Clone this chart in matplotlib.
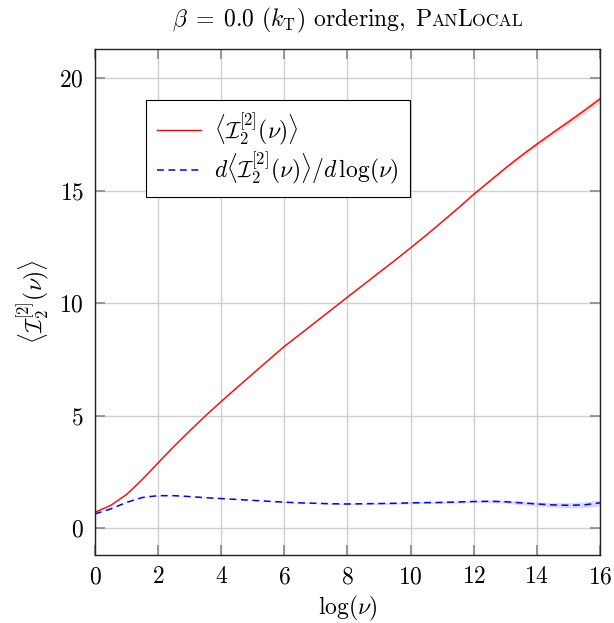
import numpy as np
import matplotlib
matplotlib.use("Agg")
import matplotlib.pyplot as plt
from matplotlib.offsetbox import TextArea, HPacker, AnchoredOffsetbox, DrawingArea

plt.rcParams["font.family"] = "serif"
plt.rcParams["font.serif"] = ["cmr10", "DejaVu Serif"]
plt.rcParams["mathtext.fontset"] = "cm"
plt.rcParams["axes.formatter.use_mathtext"] = True

# log(nu) grid, step 0.5
log_nu = [0.0, 0.5, 1.0, 1.5, 2.0, 2.5, 3.0, 3.5, 4.0, 4.5, 5.0, 5.5, 6.0, 6.5,
          7.0, 7.5, 8.0, 8.5, 9.0, 9.5, 10.0, 10.5, 11.0, 11.5, 12.0, 12.5,
          13.0, 13.5, 14.0, 14.5, 15.0, 15.5, 16.0]

mean_I2 = [0.70, 1.01, 1.49, 2.16, 2.90, 3.63, 4.32, 4.99, 5.63, 6.25, 6.86,
           7.47, 8.08, 8.62, 9.17, 9.72, 10.27, 10.81, 11.36, 11.90, 12.46,
           13.03, 13.62, 14.22, 14.84, 15.42, 16.00, 16.55, 17.07, 17.57,
           18.06, 18.56, 19.08]
mean_I2_err = [0.01, 0.01, 0.01, 0.01, 0.01, 0.01, 0.01, 0.01, 0.02, 0.02,
               0.02, 0.02, 0.02, 0.02, 0.02, 0.02, 0.02, 0.02, 0.02, 0.02,
               0.02, 0.03, 0.03, 0.04, 0.04, 0.05, 0.07, 0.08, 0.10, 0.11,
               0.13, 0.14, 0.16]

deriv = [0.63, 0.85, 1.14, 1.36, 1.44, 1.44, 1.40, 1.35, 1.31, 1.27, 1.23,
         1.19, 1.15, 1.12, 1.10, 1.08, 1.07, 1.08, 1.09, 1.10, 1.12, 1.13,
         1.14, 1.16, 1.18, 1.19, 1.17, 1.12, 1.07, 1.03, 1.01, 1.03, 1.12]
deriv_err = [0.01, 0.01, 0.01, 0.01, 0.01, 0.01, 0.01, 0.01, 0.01, 0.01,
             0.01, 0.01, 0.02, 0.02, 0.02, 0.03, 0.03, 0.03, 0.04, 0.04,
             0.04, 0.04, 0.05, 0.05, 0.05, 0.06, 0.07, 0.08, 0.09, 0.10,
             0.12, 0.13, 0.14]

x = np.array(log_nu)
y1 = np.array(mean_I2); e1 = np.array(mean_I2_err)
y2 = np.array(deriv); e2 = np.array(deriv_err)

FS = 17

fig = plt.figure(figsize=(6.14, 6.23), dpi=100)
ax = fig.add_axes([0.1547, 0.1091, 0.8225, 0.8122])

ax.fill_between(x, y1 - e1, y1 + e1, color="red", alpha=0.15, lw=0)
ax.fill_between(x, y2 - e2, y2 + e2, color="blue", alpha=0.15, lw=0)
ax.plot(x, y1, color="red", lw=1.0,
        label=r"$\langle\mathcal{I}_2^{[2]}(\nu)\rangle$")
ax.plot(x, y2, color="blue", lw=1.1, ls=(0, (4.5, 3)),
        label=r"$d\langle\mathcal{I}_2^{[2]}(\nu)\rangle/d\,\log(\nu)$")

ax.set_xlim(0, 16)
ax.set_ylim(-1.2, 21.3)
ax.set_xticks(np.arange(0, 17, 2))
ax.set_yticks([0, 5, 10, 15, 20])
ax.grid(True, color="#d0d0d0", lw=1.0)
ax.set_axisbelow(True)
ax.tick_params(direction="in", length=7, width=1.2, color="#888888",
               labelsize=FS, top=True, right=True, pad=8)
for s in ax.spines.values():
    s.set_linewidth(1.0)
    s.set_color("#222222")

ax.set_xlabel(r"$\log(\nu)$", fontsize=FS, labelpad=4)
ax.set_ylabel(r"$\langle\mathcal{I}_2^{[2]}(\nu)\rangle$", fontsize=FS, labelpad=6)

leg = ax.legend(loc="upper left", bbox_to_anchor=(0.101, 0.899), fontsize=FS,
                fancybox=False, framealpha=1, edgecolor="black",
                handlelength=1.9, borderpad=0.45, labelspacing=0.12,
                handletextpad=0.55, borderaxespad=0)
leg.get_frame().set_linewidth(0.8)

# title with small caps "PanLocal"
big = dict(size=FS, family="serif")
small = dict(size=FS * 0.75, family="serif")
parts = [TextArea(r"$\beta\;=\;0.0$ ($k_{\mathrm{T}}$) ordering,", textprops=big),
         DrawingArea(7, 1),
         TextArea("P", textprops=big), TextArea("AN", textprops=small),
         TextArea("L", textprops=big), TextArea("OCAL", textprops=small)]
box = HPacker(children=parts, align="baseline", pad=0, sep=0)
anch = AnchoredOffsetbox(loc="lower center", child=box, pad=0, frameon=False,
                         bbox_to_anchor=(0.5, 1.028), bbox_transform=ax.transAxes,
                         borderpad=0)
ax.add_artist(anch)

fig.savefig("out.png", dpi=100)
